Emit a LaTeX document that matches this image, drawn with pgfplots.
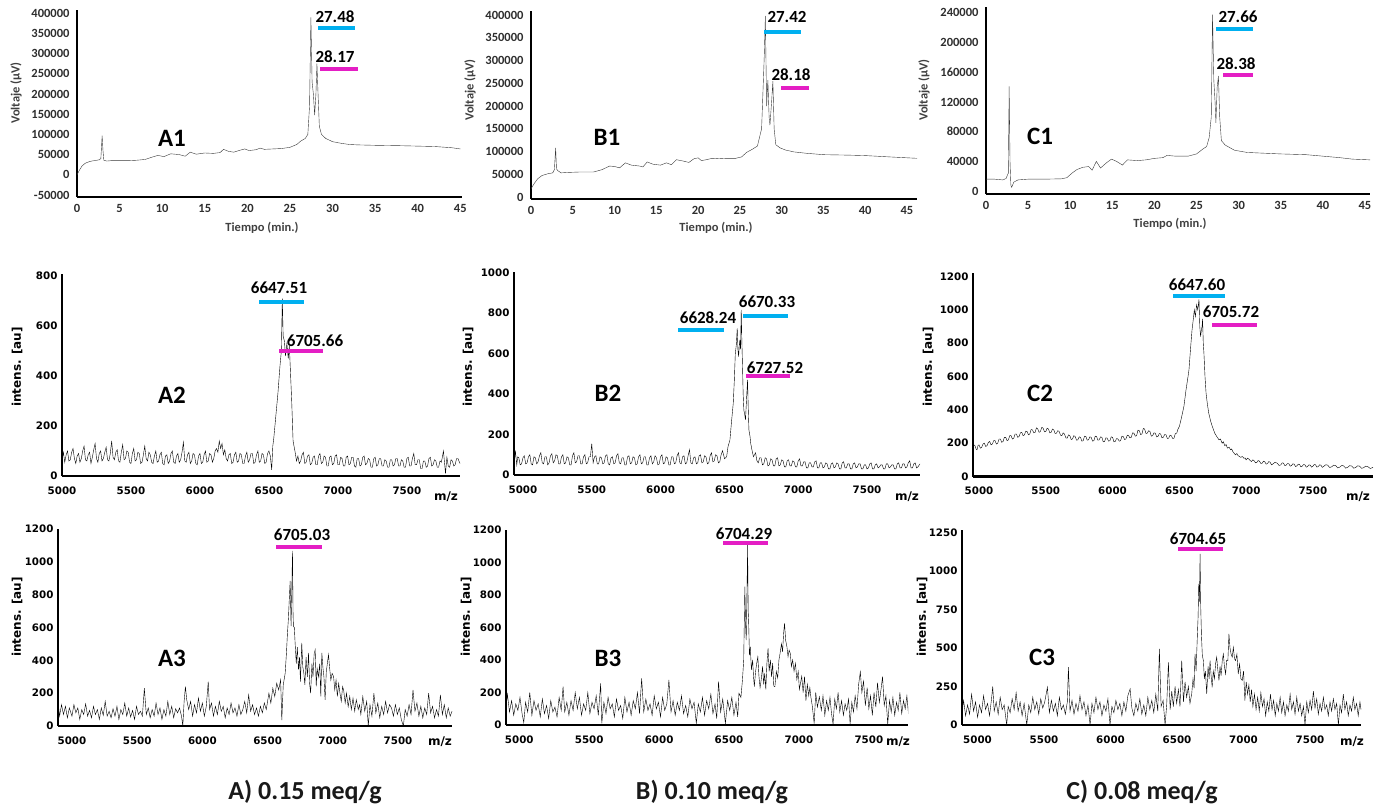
\documentclass[border=0pt]{standalone}
\usepackage{fontspec}
\setmainfont{Carlito}
\newfontfamily\dejavu{DejaVu Sans}
\usepackage{pgfplots}
\pgfplotsset{compat=1.18}
\definecolor{cbar}{RGB}{0,176,240}
\definecolor{mbar}{RGB}{228,30,196}
\pgfplotsset{
 common/.style={scale only axis, anchor=south west, axis x line=bottom, axis y line=left,
   major tick length=0pt, /pgf/number format/assume math mode=true, /pgf/number format/fixed,
   /pgf/number format/1000 sep={}, scaled ticks=false, clip mode=individual},
 chrom/.style={common, axis line style={line width=1.6pt, black, -},
   tick label style={font=\fontsize{12.5}{13}\selectfont\bfseries, text=black!82},
   xticklabel style={yshift=-4pt}, yticklabel style={xshift=-4pt},
   xtick={0,5,10,15,20,25,30,35,40,45},
   cycle list={{black!78, line width=0.95pt, mark=none}}},
 spec/.style={common, axis line style={line width=2.6pt, black, -},
   tick label style={font=\dejavu\bfseries\fontsize{10.3}{12}\selectfont, text=black},
   xticklabel style={yshift=-7pt}, yticklabel style={xshift=-1pt},
   xtick={5000,5500,6000,6500,7000,7500},
   cycle list={{black, line width=1.05pt, mark=none}}},
}
\newcommand{\peakf}{\fontsize{17}{18}\selectfont\bfseries}
\newcommand{\panf}{\fontsize{25}{26}\selectfont\bfseries}
\newcommand{\axf}{\fontsize{12.5}{13}\selectfont\bfseries\color{black!75}}
\newcommand{\intf}{\dejavu\bfseries\fontsize{12}{13}\selectfont}
\begin{document}
\begin{tikzpicture}
\useasboundingbox (0pt,0pt) rectangle (1387pt,-806pt);
% ---------------- A1
\begin{axis}[chrom, at={(77pt,-197pt)}, width=385pt, height=187pt,
  xmin=0, xmax=45.2, ymin=-55000, ymax=408000, ytick={-50000,0,50000,100000,150000,200000,250000,300000,350000,400000},
  yticklabels={-50000,0,50000,100000,150000,200000,250000,300000,350000,400000}]
\addplot coordinates {(0,0) (0.3,12000) (0.6,22000) (1,29000) (1.5,33000) (2,35000) (2.6,37000) (2.8,40000) (2.95,97000) (3.05,60000) (3.15,36000) (3.5,34000) (4,35000) (5,35000) (6,35000) (7,36000) (8,38000) (8.7,43000) (9.5,48000) (10.2,45000) (11,52000) (12,50000) (12.7,46000) (13.3,56000) (14,51000) (15,54000) (16,53000) (16.8,55000) (17.2,63000) (17.8,58000) (18.4,56000) (19,60000) (19.7,64000) (20.2,60000) (21,62000) (21.5,66000) (22,63000) (23,64000) (24,65000) (25,68000) (25.8,75000) (26.3,84000) (26.8,90000) (27.1,100000) (27.3,170000) (27.46,390000) (27.6,230000) (27.75,200000) (27.9,148000) (28.05,200000) (28.17,275000) (28.3,200000) (28.45,120000) (28.7,100000) (29.2,90000) (30,82000) (31,78000) (32,75000) (33,74000) (35,73000) (38,72000) (40,71000) (42,70000) (44,67000) (45,64000)};
\end{axis}
% ---------------- B1
\begin{axis}[chrom, at={(531pt,-199pt)}, width=386pt, height=188pt,
  xmin=0, xmax=46.2, ymin=-4500, ymax=409000, ytick={0,50000,100000,150000,200000,250000,300000,350000,400000},
  yticklabels={0,50000,100000,150000,200000,250000,300000,350000,400000}]
\addplot coordinates {(0,18000) (0.4,30000) (0.8,40000) (1.3,47000) (2,51000) (2.6,53000) (2.8,60000) (2.95,108000) (3.05,62000) (3.2,58000) (3.6,53000) (4.5,54000) (6,55000) (7.5,55000) (8.5,60000) (9.4,68000) (10,67000) (10.6,64000) (11.3,75000) (12,70000) (13,68000) (13.4,66000) (13.9,77000) (14.6,72000) (15.5,70000) (16.2,75000) (16.8,71000) (17.4,82000) (18.2,79000) (18.9,76000) (19.5,84000) (20,86000) (20.4,80000) (21,82000) (21.7,85000) (22.5,84000) (23.5,85000) (24.5,85000) (25.2,88000) (25.8,98000) (26.5,105000) (27.1,112000) (27.6,150000) (27.9,300000) (28.05,398000) (28.2,200000) (28.35,257000) (28.5,175000) (28.6,158000) (28.8,210000) (28.95,255000) (29.1,150000) (29.3,115000) (29.8,108000) (30.5,103000) (31.5,99000) (33,96000) (35,93000) (38,92000) (40,91000) (43,88000) (46.2,85000)};
\end{axis}
% ---------------- C1
\begin{axis}[chrom, at={(986pt,-194pt)}, width=384pt, height=187pt,
  xmin=0, xmax=45.6, ymin=-4000, ymax=248000, ytick={0,40000,80000,120000,160000,200000,240000},
  yticklabels={0,40000,80000,120000,160000,200000,240000}]
\addplot coordinates {(0,16000) (1,16000) (2,15000) (2.4,17000) (2.55,22000) (2.65,24000) (2.75,141000) (2.85,40000) (2.95,8000) (3.05,5000) (3.3,12000) (3.8,15000) (5,16000) (7,16000) (9,16500) (9.6,18000) (10.2,24000) (10.8,29000) (11.5,32000) (12.2,33000) (12.6,28000) (13.1,40000) (13.6,31000) (14.3,38000) (14.9,43000) (15.5,40000) (16.2,35000) (16.8,42000) (18,41000) (19,42000) (20,44000) (21,45000) (21.5,48000) (22.5,47000) (24,47000) (25,50000) (25.8,57000) (26.2,60000) (26.5,72000) (26.75,100000) (26.9,238000) (27.05,150000) (27.2,120000) (27.3,92000) (27.45,140000) (27.6,155000) (27.75,100000) (27.95,68000) (28.4,62000) (29.5,55000) (31,52000) (33,51000) (35,50000) (38,49000) (40,47000) (42,45000) (43.5,43000) (45.6,42000)};
\end{axis}
% ---------------- A2
\begin{axis}[spec, at={(62pt,-476pt)}, width=398pt, height=202pt,
  xmin=5000, xmax=7885, ymin=0, ymax=808, ytick={0,200,400,600,800}]
\addplot coordinates {(5000,60) (5010,95) (5020,55) (5030,85) (5040,100) (5050,60) (5060,65) (5070,95) (5080,110) (5090,70) (5100,50) (5110,80) (5120,90) (5130,55) (5140,70) (5150,100) (5160,120) (5170,65) (5180,60) (5190,85) (5200,95) (5210,50) (5220,75) (5230,105) (5240,130) (5250,70) (5260,55) (5270,90) (5280,100) (5290,60) (5300,70) (5310,95) (5320,115) (5330,65) (5340,60) (5350,90) (5360,140) (5370,75) (5380,65) (5390,95) (5400,105) (5410,60) (5420,55) (5430,95) (5440,125) (5450,65) (5460,70) (5470,100) (5480,95) (5490,55) (5500,50) (5510,90) (5520,110) (5530,60) (5540,65) (5550,95) (5560,90) (5570,50) (5580,55) (5590,85) (5600,120) (5610,70) (5620,60) (5630,95) (5640,85) (5650,55) (5660,50) (5670,80) (5680,100) (5690,55) (5700,60) (5710,85) (5720,95) (5730,50) (5740,45) (5750,80) (5760,85) (5770,50) (5780,60) (5790,90) (5800,100) (5810,55) (5820,50) (5830,80) (5840,90) (5850,55) (5860,65) (5870,95) (5880,135) (5890,60) (5900,55) (5910,85) (5920,95) (5930,50) (5940,60) (5950,90) (5960,85) (5970,50) (5980,45) (5990,80) (6000,90) (6010,50) (6020,55) (6030,85) (6040,100) (6050,55) (6060,60) (6070,90) (6080,85) (6090,55) (6100,70) (6110,100) (6120,110) (6130,95) (6140,140) (6150,110) (6160,130) (6170,85) (6180,105) (6190,70) (6200,60) (6210,85) (6220,90) (6230,50) (6240,55) (6250,85) (6260,95) (6270,55) (6280,60) (6290,90) (6300,85) (6310,50) (6320,50) (6330,80) (6340,95) (6350,55) (6360,65) (6370,90) (6380,90) (6390,50) (6400,55) (6410,85) (6420,100) (6430,55) (6440,60) (6450,90) (6460,85) (6470,50) (6480,55) (6490,90) (6500,100) (6510,80) (6520,25) (6528,120) (6535,150) (6550,240) (6565,330) (6580,440) (6590,500) (6597,710) (6603,560) (6612,540) (6620,480) (6630,530) (6640,470) (6648,520) (6655,430) (6665,300) (6675,140) (6690,95) (6700,60) (6710,80) (6720,50) (6730,60) (6740,85) (6750,95) (6760,50) (6770,55) (6780,80) (6790,85) (6800,45) (6810,50) (6820,75) (6830,80) (6840,45) (6850,45) (6860,80) (6870,90) (6880,50) (6890,55) (6900,80) (6910,75) (6920,40) (6930,40) (6940,75) (6950,80) (6960,45) (6970,50) (6980,80) (6990,85) (7000,45) (7010,45) (7020,75) (7030,70) (7040,40) (7050,40) (7060,75) (7070,80) (7080,45) (7090,50) (7100,75) (7110,75) (7120,40) (7130,35) (7140,70) (7150,70) (7160,40) (7170,45) (7180,75) (7190,80) (7200,45) (7210,50) (7220,70) (7230,65) (7240,35) (7250,35) (7260,70) (7270,75) (7280,40) (7290,45) (7300,70) (7310,70) (7320,40) (7330,40) (7340,65) (7350,60) (7360,35) (7370,35) (7380,65) (7390,65) (7400,40) (7410,45) (7420,70) (7430,70) (7440,40) (7450,40) (7460,65) (7470,60) (7480,35) (7490,35) (7500,70) (7510,75) (7520,40) (7530,40) (7540,70) (7550,90) (7560,45) (7570,45) (7580,65) (7590,65) (7600,30) (7610,30) (7620,60) (7630,60) (7640,35) (7650,40) (7660,70) (7670,75) (7680,40) (7690,45) (7700,65) (7710,60) (7720,35) (7730,35) (7740,60) (7750,55) (7765,100) (7780,10) (7790,75) (7800,40) (7810,35) (7820,65) (7830,60) (7840,40) (7850,45) (7860,70) (7870,70) (7885,50)};
\end{axis}
% ---------------- B2
\begin{axis}[spec, at={(514pt,-475pt)}, width=406pt, height=203pt,
  xmin=4935, xmax=7885, ymin=0, ymax=1002, ytick={0,200,400,600,800,1000}]
\addplot coordinates {(4935,40) (4945,120) (4955,50) (4962,90) (4970,85) (4980,50) (4990,55) (5000,85) (5010,95) (5020,55) (5030,60) (5040,90) (5050,100) (5060,55) (5070,50) (5080,90) (5090,85) (5100,55) (5110,65) (5120,95) (5130,110) (5140,60) (5150,55) (5160,90) (5170,90) (5180,50) (5190,60) (5200,95) (5210,105) (5220,60) (5230,70) (5240,100) (5250,95) (5260,55) (5270,55) (5280,90) (5290,100) (5300,55) (5310,60) (5320,90) (5330,85) (5340,50) (5350,50) (5360,95) (5370,110) (5380,60) (5390,65) (5400,95) (5410,95) (5420,55) (5430,55) (5440,90) (5450,100) (5460,55) (5470,60) (5480,90) (5490,90) (5500,155) (5510,60) (5520,90) (5530,95) (5540,55) (5550,55) (5560,90) (5570,85) (5580,55) (5590,60) (5600,95) (5610,100) (5620,55) (5630,50) (5640,85) (5650,90) (5660,55) (5670,60) (5680,95) (5690,105) (5700,60) (5710,55) (5720,85) (5730,85) (5740,50) (5750,50) (5760,90) (5770,95) (5780,55) (5790,60) (5800,90) (5810,85) (5820,50) (5830,55) (5840,90) (5850,100) (5860,55) (5870,60) (5880,90) (5890,90) (5900,50) (5910,50) (5920,85) (5930,95) (5940,55) (5950,65) (5960,95) (5970,85) (5980,50) (5990,55) (6000,90) (6010,100) (6020,55) (6030,60) (6040,90) (6050,85) (6060,50) (6070,50) (6080,90) (6090,90) (6100,55) (6110,60) (6120,95) (6130,110) (6140,60) (6150,55) (6160,90) (6170,95) (6180,55) (6190,60) (6200,95) (6210,125) (6220,60) (6230,55) (6240,85) (6250,90) (6260,55) (6270,60) (6280,95) (6290,100) (6300,60) (6310,65) (6320,95) (6330,90) (6340,55) (6350,60) (6360,95) (6370,110) (6380,65) (6390,70) (6400,100) (6410,95) (6420,60) (6430,65) (6440,100) (6450,120) (6465,80) (6480,90) (6490,140) (6504,173) (6515,260) (6528,354) (6536,470) (6543,600) (6550,640) (6557,724) (6562,620) (6567,584) (6572,640) (6576,667) (6581,620) (6586,815) (6591,650) (6596,518) (6600,400) (6605,321) (6611,300) (6617,272) (6625,380) (6632,469) (6637,330) (6642,222) (6650,190) (6655,156) (6665,120) (6675,90) (6690,110) (6700,70) (6710,60) (6720,85) (6730,85) (6740,50) (6750,55) (6760,85) (6770,80) (6780,45) (6790,50) (6800,80) (6810,75) (6820,45) (6830,45) (6840,80) (6850,85) (6860,45) (6870,50) (6880,75) (6890,70) (6900,40) (6910,40) (6920,70) (6930,75) (6940,45) (6950,45) (6960,70) (6970,65) (6980,40) (6990,40) (7000,70) (7010,80) (7020,45) (7030,45) (7040,65) (7050,65) (7060,35) (7070,35) (7080,60) (7090,60) (7100,40) (7110,40) (7120,65) (7130,70) (7140,35) (7150,35) (7160,60) (7170,60) (7180,35) (7190,40) (7200,60) (7210,55) (7220,30) (7230,30) (7240,55) (7250,60) (7260,35) (7270,40) (7280,60) (7290,55) (7300,30) (7310,30) (7320,60) (7330,65) (7340,35) (7350,35) (7360,55) (7370,55) (7380,30) (7390,30) (7400,55) (7410,60) (7420,35) (7430,40) (7440,55) (7450,55) (7460,30) (7470,30) (7480,50) (7490,50) (7500,30) (7510,35) (7520,55) (7530,60) (7540,30) (7550,30) (7560,50) (7570,55) (7580,35) (7590,40) (7600,50) (7610,50) (7620,30) (7630,30) (7640,55) (7650,55) (7660,35) (7670,40) (7680,50) (7690,50) (7700,30) (7710,30) (7720,55) (7730,60) (7740,35) (7750,35) (7760,55) (7770,55) (7780,35) (7790,40) (7800,60) (7810,70) (7820,35) (7830,35) (7840,55) (7850,60) (7860,35) (7870,40) (7885,55)};
\end{axis}
% ---------------- C2
\begin{axis}[spec, at={(973pt,-476.5pt)}, width=400pt, height=203.5pt,
  xmin=4955, xmax=7950, ymin=0, ymax=1221, ytick={0,200,400,600,800,1000,1200}]
\addplot coordinates {(4955,168) (4962,190) (4970,185) (4978,165) (4985,160) (4992,185) (5000,190) (5010,170) (5020,175) (5030,195) (5040,200) (5050,180) (5060,185) (5070,205) (5080,210) (5090,190) (5100,195) (5110,215) (5120,215) (5130,195) (5140,200) (5150,225) (5160,225) (5170,205) (5180,210) (5190,235) (5200,235) (5210,215) (5220,220) (5230,245) (5240,245) (5250,225) (5260,230) (5270,255) (5280,255) (5290,235) (5300,240) (5310,262) (5320,265) (5330,245) (5340,250) (5350,272) (5360,270) (5370,250) (5380,255) (5390,282) (5400,280) (5410,262) (5420,265) (5430,292) (5440,285) (5450,265) (5460,270) (5470,295) (5480,290) (5490,268) (5500,270) (5510,290) (5520,285) (5530,262) (5540,265) (5550,285) (5560,280) (5570,258) (5580,260) (5590,275) (5600,270) (5610,248) (5620,245) (5630,262) (5640,255) (5650,232) (5660,230) (5670,250) (5680,245) (5690,222) (5700,225) (5710,245) (5720,240) (5730,218) (5740,220) (5750,238) (5760,235) (5770,212) (5780,215) (5790,242) (5800,240) (5810,218) (5820,220) (5830,238) (5840,235) (5850,212) (5860,215) (5870,242) (5880,240) (5890,218) (5900,220) (5910,238) (5920,235) (5930,208) (5940,210) (5950,232) (5960,230) (5970,212) (5980,215) (5990,238) (6000,235) (6010,208) (6020,210) (6030,228) (6040,225) (6050,212) (6060,215) (6070,242) (6080,240) (6090,222) (6100,225) (6110,248) (6120,245) (6130,232) (6140,235) (6150,262) (6160,260) (6170,242) (6180,245) (6190,278) (6200,275) (6210,252) (6220,255) (6230,288) (6240,285) (6250,258) (6260,260) (6270,275) (6280,270) (6290,242) (6300,245) (6310,262) (6320,260) (6330,238) (6340,240) (6350,258) (6360,255) (6370,232) (6380,235) (6390,252) (6400,250) (6410,228) (6420,230) (6430,248) (6440,245) (6450,228) (6460,230) (6470,258) (6480,260) (6490,285) (6500,300) (6515,350) (6534,420) (6550,520) (6565,600) (6572,640) (6585,780) (6595,880) (6604,940) (6612,1000) (6620,960) (6629,1030) (6638,1000) (6647,1063) (6653,900) (6659,839) (6665,880) (6670,900) (6674,945) (6679,800) (6684,740) (6692,600) (6700,500) (6709,440) (6720,380) (6735,330) (6747,300) (6765,260) (6780,240) (6797,220) (6808,225) (6820,200) (6830,208) (6840,185) (6850,192) (6860,170) (6872,176) (6884,160) (6892,165) (6900,150) (6910,140) (6920,130) (6930,138) (6940,125) (6950,120) (6960,115) (6972,120) (6984,109) (6992,112) (7000,100) (7010,110) (7020,105) (7030,96) (7040,90) (7050,100) (7060,95) (7070,82) (7080,85) (7090,96) (7100,92) (7110,78) (7120,80) (7130,92) (7140,88) (7150,74) (7160,78) (7170,90) (7180,85) (7190,70) (7200,75) (7217,86) (7234,79) (7247,66) (7260,70) (7270,82) (7280,80) (7290,65) (7300,68) (7310,78) (7320,76) (7330,62) (7340,66) (7350,76) (7360,74) (7370,60) (7380,64) (7390,74) (7400,72) (7410,58) (7420,62) (7430,72) (7440,70) (7450,56) (7460,60) (7470,70) (7480,68) (7490,56) (7500,62) (7510,72) (7520,70) (7530,56) (7540,60) (7550,70) (7560,68) (7570,55) (7580,60) (7595,70) (7610,69) (7625,54) (7640,58) (7655,68) (7670,66) (7685,52) (7700,56) (7715,66) (7730,64) (7745,50) (7760,55) (7775,65) (7790,63) (7805,50) (7820,54) (7835,64) (7850,62) (7865,49) (7880,53) (7895,62) (7910,60) (7930,48) (7950,55)};
\end{axis}
% ---------------- A3
\begin{axis}[spec, at={(58pt,-726pt)}, width=394pt, height=197pt,
  xmin=4893, xmax=7914, ymin=0, ymax=1200, ytick={0,200,400,600,800,1000,1200}]
\addplot coordinates {(4893,150) (4905,60) (4920,130) (4935,70) (4950,120) (4965,50) (4980,110) (5000,60) (5015,130) (5030,80) (5045,110) (5060,40) (5075,100) (5090,70) (5105,135) (5120,60) (5135,95) (5150,50) (5165,120) (5180,70) (5195,100) (5210,40) (5225,110) (5240,65) (5255,150) (5270,60) (5285,90) (5300,50) (5315,105) (5330,60) (5345,120) (5360,40) (5375,100) (5390,70) (5405,140) (5420,60) (5435,110) (5450,55) (5465,95) (5480,40) (5495,120) (5510,70) (5525,90) (5540,60) (5555,230) (5570,70) (5585,110) (5600,50) (5615,100) (5630,60) (5645,140) (5660,70) (5675,110) (5690,40) (5705,100) (5720,60) (5735,150) (5750,70) (5765,120) (5780,50) (5795,105) (5810,80) (5825,110) (5840,60) (5850,0) (5860,150) (5870,240) (5880,160) (5895,100) (5910,150) (5925,60) (5940,130) (5955,80) (5970,170) (5985,90) (6000,140) (6015,60) (6030,120) (6045,270) (6055,100) (6070,140) (6085,60) (6100,120) (6115,70) (6130,150) (6145,90) (6160,120) (6175,50) (6190,110) (6205,70) (6220,140) (6235,80) (6250,110) (6265,60) (6280,130) (6295,70) (6310,100) (6325,150) (6340,80) (6355,190) (6370,90) (6385,130) (6400,70) (6415,110) (6430,60) (6445,120) (6460,80) (6475,140) (6490,100) (6500,150) (6510,200) (6525,140) (6540,230) (6555,180) (6570,261) (6585,220) (6600,280) (6609,36) (6620,250) (6635,322) (6645,450) (6652,560) (6660,659) (6665,750) (6673,884) (6680,608) (6685,800) (6691,1067) (6695,700) (6698,608) (6705,600) (6711,506) (6720,380) (6728,480) (6737,343) (6745,420) (6752,270) (6762,506) (6770,360) (6778,322) (6786,250) (6795,420) (6805,300) (6814,445) (6822,260) (6830,200) (6840,380) (6848,300) (6857,440) (6865,465) (6873,241) (6880,350) (6890,300) (6900,380) (6908,180) (6916,445) (6925,350) (6932,300) (6941,159) (6950,330) (6958,380) (6967,435) (6975,360) (6985,280) (6995,320) (7006,302) (7015,220) (7025,280) (7035,180) (7045,260) (7055,200) (7065,150) (7075,240) (7083,220) (7095,140) (7105,200) (7118,118) (7130,180) (7142,100) (7155,170) (7168,90) (7180,160) (7195,100) (7205,130) (7215,70) (7230,180) (7245,90) (7260,150) (7272,0) (7285,130) (7300,60) (7315,200) (7330,80) (7345,140) (7360,50) (7375,120) (7390,70) (7405,150) (7420,80) (7435,130) (7450,110) (7465,60) (7480,130) (7495,70) (7510,110) (7525,40) (7541,0) (7555,100) (7570,60) (7585,130) (7600,70) (7615,220) (7630,90) (7645,140) (7660,60) (7675,120) (7690,50) (7705,110) (7720,70) (7735,200) (7750,80) (7765,120) (7780,50) (7795,100) (7810,60) (7825,190) (7840,70) (7855,130) (7870,50) (7885,110) (7900,60) (7914,90)};
\end{axis}
% ---------------- B3
\begin{axis}[spec, at={(506pt,-725pt)}, width=402pt, height=195pt,
  xmin=4905, xmax=7780, ymin=0, ymax=1200, ytick={0,200,400,600,800,1000,1200}]
\addplot coordinates {(4887,140) (4900,60) (4915,190) (4930,80) (4945,150) (4960,60) (4975,130) (4990,90) (5005,170) (5020,70) (5032,15) (5045,140) (5060,80) (5075,200) (5090,60) (5105,150) (5120,90) (5135,130) (5150,50) (5165,160) (5180,70) (5195,120) (5210,40) (5225,150) (5240,80) (5255,110) (5270,50) (5285,170) (5300,90) (5313,236) (5325,80) (5340,140) (5355,60) (5370,150) (5385,90) (5400,200) (5415,100) (5430,170) (5445,60) (5460,130) (5475,90) (5490,200) (5505,70) (5520,140) (5535,100) (5550,180) (5565,60) (5582,256) (5590,10) (5605,140) (5620,70) (5635,170) (5650,100) (5665,130) (5680,50) (5695,160) (5710,90) (5725,120) (5740,40) (5755,170) (5770,80) (5785,140) (5800,60) (5815,150) (5830,100) (5845,200) (5860,70) (5875,287) (5890,80) (5905,160) (5920,90) (5935,130) (5950,60) (5965,180) (5980,100) (5995,140) (6010,50) (6025,170) (6040,90) (6055,130) (6070,277) (6085,80) (6100,150) (6115,60) (6130,140) (6145,90) (6160,180) (6175,70) (6190,120) (6205,50) (6220,160) (6235,100) (6250,140) (6266,10) (6280,130) (6295,80) (6310,170) (6325,60) (6340,150) (6355,100) (6370,190) (6385,70) (6400,130) (6412,40) (6425,267) (6440,80) (6455,160) (6474,10) (6490,150) (6505,90) (6520,170) (6535,60) (6550,140) (6562,50) (6571,196) (6585,170) (6596,277) (6605,400) (6613,851) (6619,600) (6623,523) (6628,800) (6633,1107) (6637,700) (6640,646) (6646,430) (6652,482) (6660,340) (6669,400) (6675,300) (6681,236) (6690,330) (6698,380) (6706,420) (6714,300) (6722,230) (6730,277) (6740,360) (6748,250) (6755,318) (6763,220) (6771,380) (6779,472) (6787,330) (6796,400) (6804,297) (6812,380) (6820,240) (6828,236) (6838,330) (6848,290) (6857,400) (6865,441) (6875,500) (6883,450) (6890,560) (6897,626) (6905,520) (6914,482) (6922,420) (6930,460) (6938,441) (6946,360) (6955,400) (6965,330) (6975,379) (6985,280) (6995,330) (7003,220) (7011,256) (7020,300) (7030,200) (7040,297) (7050,150) (7060,250) (7070,180) (7078,230) (7085,174) (7095,120) (7109,9) (7120,200) (7132,110) (7146,174) (7160,90) (7172,180) (7185,60) (7198,150) (7210,90) (7222,170) (7233,70) (7244,5) (7256,160) (7268,100) (7280,200) (7292,80) (7305,150) (7318,60) (7330,130) (7342,90) (7355,160) (7366,5) (7378,140) (7390,80) (7402,180) (7415,100) (7427,250) (7439,328) (7450,200) (7462,270) (7475,120) (7488,230) (7500,100) (7512,180) (7525,60) (7537,200) (7550,110) (7562,260) (7575,140) (7587,220) (7598,297) (7610,120) (7622,180) (7635,5) (7648,150) (7660,80) (7672,170) (7685,60) (7698,140) (7710,90) (7722,200) (7735,70) (7748,150) (7760,100) (7772,180) (7785,50)};
\end{axis}
% ---------------- C3
\begin{axis}[spec, at={(962pt,-725pt)}, width=399pt, height=195pt,
  xmin=4883, xmax=7883, ymin=0, ymax=1265, ytick={0,250,500,750,1000,1250}]
\addplot coordinates {(4883,80) (4895,160) (4910,60) (4925,130) (4940,70) (4955,200) (4970,90) (4985,150) (5000,50) (5015,130) (5030,80) (5045,190) (5060,100) (5075,140) (5090,60) (5105,170) (5114,250) (5125,90) (5140,150) (5155,70) (5170,180) (5185,100) (5200,130) (5219,0) (5230,120) (5245,80) (5260,170) (5275,100) (5290,210) (5305,90) (5320,150) (5335,60) (5350,140) (5370,0) (5385,130) (5400,80) (5415,180) (5430,100) (5445,150) (5460,70) (5475,170) (5490,110) (5505,150) (5525,245) (5540,80) (5555,160) (5570,90) (5585,140) (5600,60) (5615,180) (5630,100) (5645,130) (5660,70) (5675,150) (5683,375) (5695,90) (5710,160) (5725,70) (5740,140) (5755,90) (5770,190) (5785,100) (5800,150) (5815,60) (5830,130) (5846,0) (5860,140) (5875,80) (5890,180) (5905,100) (5920,150) (5935,60) (5950,130) (5965,90) (5980,170) (5996,0) (6010,120) (6025,80) (6040,160) (6055,100) (6070,140) (6085,60) (6100,150) (6115,90) (6130,190) (6147,234) (6160,110) (6175,60) (6190,140) (6205,90) (6220,170) (6235,70) (6250,130) (6265,60) (6280,180) (6295,100) (6310,160) (6325,80) (6340,200) (6355,90) (6367,494) (6380,120) (6395,160) (6410,0) (6422,130) (6435,407) (6448,100) (6460,220) (6472,120) (6485,250) (6497,140) (6510,230) (6522,120) (6535,418) (6548,150) (6560,280) (6572,180) (6585,250) (6597,140) (6610,202) (6620,300) (6628,240) (6635,461) (6643,350) (6653,591) (6658,700) (6663,916) (6668,800) (6673,1110) (6678,764) (6683,591) (6690,450) (6698,418) (6705,300) (6713,350) (6723,202) (6733,380) (6741,300) (6748,418) (6756,320) (6764,245) (6772,350) (6781,300) (6790,400) (6798,440) (6806,360) (6815,289) (6823,380) (6831,320) (6840,420) (6848,461) (6856,380) (6865,331) (6873,420) (6882,418) (6890,591) (6898,500) (6906,461) (6915,440) (6923,504) (6932,430) (6940,418) (6950,460) (6960,331) (6970,396) (6980,300) (6990,289) (7000,350) (7010,159) (7020,280) (7030,200) (7040,260) (7050,150) (7060,230) (7070,120) (7082,200) (7094,100) (7106,180) (7118,90) (7130,210) (7142,120) (7154,170) (7166,60) (7178,150) (7190,90) (7202,200) (7214,100) (7226,160) (7238,60) (7250,140) (7262,90) (7275,180) (7287,80) (7300,150) (7312,60) (7325,130) (7337,90) (7350,200) (7362,100) (7375,150) (7387,70) (7400,180) (7412,90) (7425,140) (7437,60) (7450,120) (7462,0) (7475,150) (7487,80) (7500,160) (7512,100) (7525,220) (7537,110) (7550,170) (7562,70) (7575,140) (7587,90) (7600,180) (7612,100) (7625,130) (7637,60) (7650,150) (7662,90) (7675,170) (7687,100) (7700,140) (7713,0) (7725,130) (7737,80) (7750,200) (7762,100) (7775,150) (7787,60) (7800,130) (7812,90) (7825,180) (7837,100) (7850,140) (7862,60) (7875,150) (7883,100)};
\end{axis}
% ---------------- annotations
\tikzset{cb/.style={line width=3.5pt, cbar}, mb/.style={line width=3.5pt, mbar}}
% row 1
\node[font=\peakf] at (335pt,-17pt) {27.48};
\draw[cb] (318pt,-28pt) -- (355pt,-28pt);
\node[font=\peakf] at (335pt,-57pt) {28.17};
\draw[mb] (320pt,-69pt) -- (358pt,-69pt);
\node[font=\panf] at (172pt,-138pt) {A1};
\node[rotate=90, font=\axf] at (16pt,-93pt) {Voltaje (µV)};
\node[font=\axf] at (262pt,-228pt) {Tiempo (min.)};
\node[font=\peakf] at (787pt,-17pt) {27.42};
\draw[cb] (764pt,-32pt) -- (801pt,-32pt);
\node[font=\peakf] at (791pt,-75pt) {28.18};
\draw[mb] (781pt,-88pt) -- (809pt,-88pt);
\node[font=\panf] at (607pt,-137pt) {B1};
\node[rotate=90, font=\axf] at (470pt,-90pt) {Voltaje (µV)};
\node[font=\axf] at (716pt,-228pt) {Tiempo (min.)};
\node[font=\peakf] at (1238pt,-17pt) {27.66};
\draw[cb] (1216pt,-29pt) -- (1253pt,-29pt);
\node[font=\peakf] at (1236pt,-64pt) {28.38};
\draw[mb] (1223pt,-75pt) -- (1253pt,-75pt);
\node[font=\panf] at (1040pt,-136pt) {C1};
\node[rotate=90, font=\axf] at (924pt,-90pt) {Voltaje (µV)};
\node[font=\axf] at (1170pt,-224pt) {Tiempo (min.)};
% row 2
\node[font=\peakf] at (279pt,-288pt) {6647.51};
\draw[cb] (259pt,-302pt) -- (304pt,-302pt);
\node[font=\peakf] at (315pt,-341pt) {6705.66};
\draw[mb] (279pt,-351pt) -- (323pt,-351pt);
\node[font=\panf] at (172pt,-395pt) {A2};
\node[rotate=90, font=\intf] at (17pt,-367pt) {intens. [au]};
\node[font=\intf] at (446pt,-497pt) {m/z};
\node[font=\peakf] at (708pt,-318pt) {6628.24};
\draw[cb] (678pt,-330pt) -- (724pt,-330pt);
\node[font=\peakf] at (767pt,-302pt) {6670.33};
\draw[cb] (743pt,-316pt) -- (788pt,-316pt);
\node[font=\peakf] at (775pt,-368pt) {6727.52};
\draw[mb] (746pt,-376pt) -- (790pt,-376pt);
\node[font=\panf] at (608pt,-393pt) {B2};
\node[rotate=90, font=\intf] at (468pt,-367pt) {intens. [au]};
\node[font=\intf] at (907pt,-497pt) {m/z};
\node[font=\peakf] at (1197pt,-285pt) {6647.60};
\draw[cb] (1173pt,-296pt) -- (1225pt,-296pt);
\node[font=\peakf] at (1231pt,-312pt) {6705.72};
\draw[mb] (1212pt,-325pt) -- (1257pt,-325pt);
\node[font=\panf] at (1040pt,-393pt) {C2};
\node[rotate=90, font=\intf] at (928pt,-367pt) {intens. [au]};
\node[font=\intf] at (1358pt,-497pt) {m/z};
% row 3
\node[font=\peakf] at (302pt,-535pt) {6705.03};
\draw[mb] (276pt,-547pt) -- (322pt,-547pt);
\node[font=\panf] at (172pt,-658pt) {A3};
\node[rotate=90, font=\intf] at (17pt,-617pt) {intens. [au]};
\node[font=\intf] at (440pt,-742pt) {m/z};
\node[font=\peakf] at (744pt,-534pt) {6704.29};
\draw[mb] (723pt,-543pt) -- (768pt,-543pt);
\node[font=\panf] at (608pt,-658pt) {B3};
\node[rotate=90, font=\intf] at (466pt,-617pt) {intens. [au]};
\node[font=\intf] at (898pt,-742pt) {m/z};
\node[font=\peakf] at (1198pt,-539pt) {6704.65};
\draw[mb] (1178pt,-549pt) -- (1223pt,-549pt);
\node[font=\panf] at (1042pt,-657pt) {C3};
\node[rotate=90, font=\intf] at (922pt,-617pt) {intens. [au]};
\node[font=\intf] at (1352pt,-742pt) {m/z};
% bottom captions
\node[font=\fontsize{26}{28}\selectfont\bfseries, text=black!90] at (305pt,-792pt) {A) 0.15 meq/g};
\node[font=\fontsize{26}{28}\selectfont\bfseries, text=black!90] at (712pt,-792pt) {B) 0.10 meq/g};
\node[font=\fontsize{26}{28}\selectfont\bfseries, text=black!90] at (1142pt,-792pt) {C) 0.08 meq/g};
\end{tikzpicture}
\end{document}
